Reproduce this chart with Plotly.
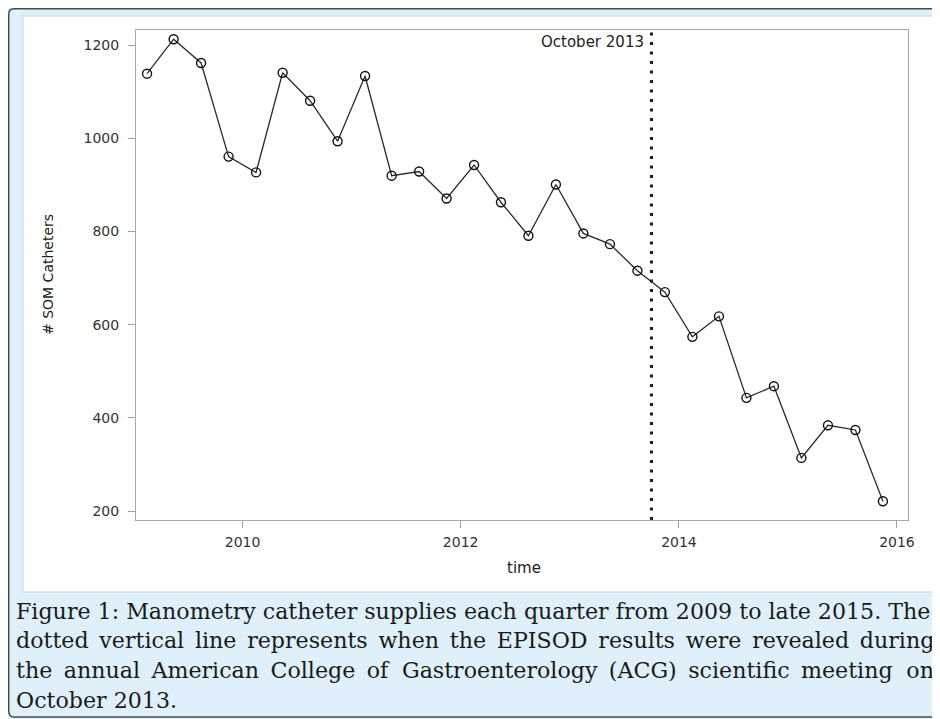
import plotly.graph_objects as go

# ---- data ----
quarters = [
    "2009-02-15", "2009-05-15", "2009-08-15", "2009-11-15",
    "2010-02-15", "2010-05-15", "2010-08-15", "2010-11-15",
    "2011-02-15", "2011-05-15", "2011-08-15", "2011-11-15",
    "2012-02-15", "2012-05-15", "2012-08-15", "2012-11-15",
    "2013-02-15", "2013-05-15", "2013-08-15", "2013-11-15",
    "2014-02-15", "2014-05-15", "2014-08-15", "2014-11-15",
    "2015-02-15", "2015-05-15", "2015-08-15", "2015-11-15",
]
catheters = [
    1139, 1213, 1162, 961, 927, 1141, 1081, 994,
    1134, 920, 929, 871, 943, 863, 791, 901,
    796, 773, 716, 670, 574, 618, 443, 468,
    314, 384, 374, 221,
]
event_date = "2013-10-01"
event_label = "October 2013"
y_ticks = [200, 400, 600, 800, 1000, 1200]
x_ticks = ["2010-01-01", "2012-01-01", "2014-01-01", "2016-01-01"]
x_tick_labels = ["2010", "2012", "2014", "2016"]
caption_lines = [
    "Figure 1: Manometry catheter supplies each quarter from 2009 to late 2015. The",
    "dotted vertical line represents when the EPISOD results were revealed during",
    "the annual American College of Gastroenterology (ACG) scientific meeting on",
    "October 2013.",
]
# extra inter-word padding per line (imitating justified text)
caption_gap = [" ", " \u2006", " \u2009", " "]
caption_hair = [0, 0, 2, 0]

W, H = 932, 711          # page body has an 8px margin
L, R, T, B = 128, 900, 22, 512  # plot area in figure px


def px(x):
    return (x - L) / (R - L)


def py(y):
    return (B - y) / (B - T)


def justify(text, gap, n_hair):
    words = text.split(" ")
    gaps = len(words) - 1
    out = words[0]
    for i in range(gaps):
        sep = gap
        if n_hair and (i * n_hair) // gaps != ((i + 1) * n_hair) // gaps:
            sep += "\u200a"
        out += sep + words[i + 1]
    return out


fig = go.Figure()
fig.add_trace(go.Scatter(
    x=quarters, y=catheters, mode="lines+markers",
    line=dict(color="#2b2b2b", width=1.3),
    marker=dict(symbol="circle-open", size=9, color="#111111",
                line=dict(width=1.4, color="#111111")),
    showlegend=False, hoverinfo="x+y",
))

shapes = [
    # outer rounded frame
    dict(type="path", xref="paper", yref="paper", layer="below",
         path=(f"M {px(0.75)},{py(6)} Q {px(0.75)},{py(0.75)} {px(6)},{py(0.75)} "
               f"L {px(960)},{py(0.75)} L {px(960)},{py(709)} L {px(6)},{py(709)} "
               f"Q {px(0.75)},{py(709)} {px(0.75)},{py(703)} Z"),
         fillcolor="#dff0fb", line=dict(color="#4a4a4a", width=1.5)),
    # white panel
    dict(type="rect", xref="paper", yref="paper", layer="below",
         x0=px(15), x1=px(925), y0=py(584), y1=py(8),
         fillcolor="#ffffff", line=dict(color="#cfcfcf", width=1)),
    # event line
    dict(type="line", xref="x", yref="paper", x0=event_date, x1=event_date,
         y0=0, y1=1, line=dict(color="#1a1a1a", width=3, dash="3px,6.5px")),
]

annotations = [
    dict(text=event_label, x=event_date, xref="x", y=py(33.7), yref="paper",
         xanchor="right", yanchor="middle", xshift=-5, showarrow=False,
         font=dict(family="DejaVu Sans", size=15, color="#222222")),
    dict(text="time", x=px(516), xref="paper", y=py(560), yref="paper",
         xanchor="center", yanchor="middle", showarrow=False,
         font=dict(family="DejaVu Sans", size=15, color="#222222")),
    dict(text="# SOM Catheters", x=px(40), xref="paper", y=py(267), yref="paper",
         xanchor="center", yanchor="middle", textangle=-90, showarrow=False,
         font=dict(family="DejaVu Sans", size=14, color="#222222")),
]
line_y = [602.5, 632, 662, 691.5]
for txt, gap, nh, yy in zip(caption_lines, caption_gap, caption_hair, line_y):
    annotations.append(dict(
        text=justify(txt, gap, nh),
        x=px(5.5), xref="paper", y=py(yy), yref="paper",
        xanchor="left", yanchor="middle", showarrow=False,
        font=dict(family="DejaVu Serif", size=22.15, color="#1a1a1a")))

fig.update_layout(
    width=W, height=H,
    margin=dict(l=L, r=W - R, t=T, b=H - B, pad=0),
    paper_bgcolor="#dff0fb", plot_bgcolor="#ffffff",
    shapes=shapes, annotations=annotations,
    xaxis=dict(type="date", range=["2009-01-09", "2016-02-07"],
               tickvals=x_ticks, ticktext=x_tick_labels,
               ticks="outside", ticklen=7, tickcolor="#a0a0a0", tickwidth=1,
               ticklabelstandoff=2,
               showline=True, mirror=True, linecolor="#a8a8a8", linewidth=1,
               showgrid=False, zeroline=False,
               tickfont=dict(family="DejaVu Sans", size=14, color="#333333")),
    yaxis=dict(range=[180.7, 1232.8], tickvals=y_ticks,
               ticks="outside", ticklen=7, tickcolor="#a0a0a0", tickwidth=1,
               ticklabelstandoff=6,
               showline=True, mirror=True, linecolor="#a8a8a8", linewidth=1,
               showgrid=False, zeroline=False,
               tickfont=dict(family="DejaVu Sans", size=14, color="#333333")),
)

fig.write_html("out.html")
